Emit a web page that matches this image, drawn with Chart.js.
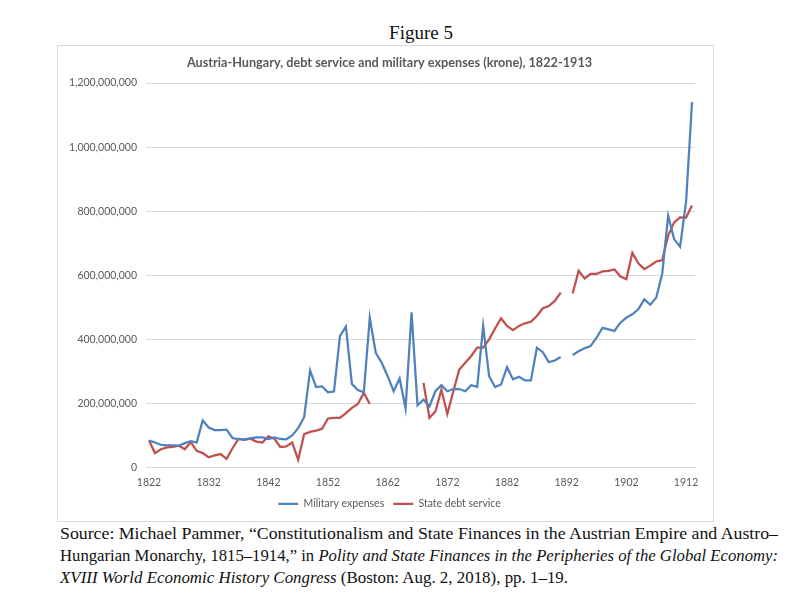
<!DOCTYPE html>
<html>
<head>
<meta charset="utf-8">
<script src="https://cdn.jsdelivr.net/npm/chart.js@4"></script>
<style>
  html, body { margin: 0; padding: 0; background: #fff; }
  body { width: 794px; height: 595px; position: relative; overflow: hidden; }
  #figTitle {
    position: absolute; left: 0; width: 842px; top: 22px; text-align: center;
    font-family: 'Liberation Serif', 'DejaVu Serif', serif; font-size: 19px; color: #111;
  }
  #chartBox {
    position: absolute; left: 57px; top: 45px; width: 657px; height: 477px;
    border: 1px solid #d9d9d9; box-sizing: border-box;
  }
  #source {
    position: absolute; left: 60px; top: 523px;
    font-family: 'Liberation Serif', 'DejaVu Serif', serif; font-size: 17px;
    line-height: 22px; color: #111; white-space: nowrap;
  }
  #source span { display: block; width: max-content; transform-origin: 0 50%; }
</style>
</head>
<body>
<div id="figTitle">Figure 5</div>
<div id="chartBox"><canvas id="chart"></canvas></div>
<div id="source">
  <span data-w="718">Source: Michael Pammer, “Constitutionalism and State Finances in the Austrian Empire and Austro–</span>
  <span data-w="718">Hungarian Monarchy, 1815–1914,” in <i>Polity and State Finances in the Peripheries of the Global Economy:</i></span>
  <span data-w="508"><i>XVIII World Economic History Congress</i> (Boston: Aug. 2, 2018), pp. 1–19.</span>
</div>
<script>
// ─── Data (values in millions of krone) ───
const years = [];
for (let y = 1822; y <= 1913; y++) years.push(String(y));

const militaryM = [
  84, 78, 71, 69, 69, 68, 76, 82, 78, 147,          // 1822-1831
  125, 117, 117, 118, 92, 88, 88, 91, 94, 94,        // 1832-1841
  89, 94, 89, 88, 100, 123, 157, 303, 251, 253,      // 1842-1851
  235, 237, 410, 440, 261, 242, 235, 468, 358, 327,  // 1852-1861
  285, 238, 278, 184, 484, 194, 212, 191, 238, 257,  // 1862-1871
  238, 245, 245, 238, 257, 252, 442, 285, 251, 259,  // 1872-1881
  313, 275, 283, 272, 272, 374, 360, 329, 334, 345,  // 1882-1891
  null, 351, 363, 372, 379, 405, 436, 431, 426, 452, // 1892-1901
  468, 478, 494, 525, 508, 530, 604, 786, 713, 689,  // 1902-1911
  828, 1141                                          // 1912-1913
];

const debtM = [
  84, 45, 57, 63, 64, 68, 57, 79, 52, 45,            // 1822-1831
  32, 38, 42, 27, 60, 90, 86, 90, 81, 78,            // 1832-1841
  97, 90, 64, 66, 78, 24, 104, 111, 115, 121,        // 1842-1851
  153, 155, 155, 170, 186, 198, 233, 198, null, null,// 1852-1861
  null, null, null, null, null, null, 264, 155, 175, 243, // 1862-1871
  167, 238, 306, 327, 348, 374, 374, 400, 434, 466,  // 1872-1881
  442, 429, 442, 450, 455, 473, 497, 504, 520, 546,  // 1882-1891
  null, 543, 614, 590, 604, 604, 612, 614, 618, 596, // 1892-1901
  588, 670, 637, 619, 630, 643, 647, 724, 765, 781,  // 1902-1911
  780, 818                                           // 1912-1913
];

const yTicks = [0, 200000000, 400000000, 600000000, 800000000, 1000000000, 1200000000];

const toKrone = arr => arr.map(v => v === null ? null : v * 1e6);

// ─── Source note: stretch each line to the width it has in the figure ───
document.querySelectorAll('#source span').forEach(sp => {
  const natural = sp.getBoundingClientRect().width;
  sp.style.transform = 'scaleX(' + (Number(sp.dataset.w) / natural) + ')';
});

// ─── Title and legend sit a little right of the canvas centre ───
const shiftBlocks = {
  id: 'shiftBlocks',
  afterLayout(chart) {
    [chart.titleBlock, chart.legend].forEach(b => {
      if (b) { b.left += 13; b.right += 13; }
    });
  }
};

// ─── Chart ───
const fontFam = "Lato, 'Liberation Sans', sans-serif";
const axisFont = { family: fontFam, size: 10.5 };
const grey = '#595959';

new Chart(document.getElementById('chart'), {
  type: 'line',
  data: {
    labels: years,
    datasets: [
      {
        label: 'Military expenses',
        data: toKrone(militaryM),
        borderColor: '#4f81bd',
        backgroundColor: '#4f81bd',
        borderWidth: 2.25,
        pointRadius: 0,
        tension: 0,
        spanGaps: false
      },
      {
        label: 'State debt service',
        data: toKrone(debtM),
        borderColor: '#c0504d',
        backgroundColor: '#c0504d',
        borderWidth: 2.25,
        pointRadius: 0,
        tension: 0,
        spanGaps: false
      }
    ]
  },
  plugins: [shiftBlocks],
  options: {
    responsive: true,
    maintainAspectRatio: false,
    animation: false,
    layout: { padding: { left: 0, right: 18, top: 0, bottom: 2 } },
    plugins: {
      title: {
        display: true,
        text: 'Austria-Hungary, debt service and military expenses (krone), 1822-1913',
        color: grey,
        font: { family: fontFam, size: 12.7, weight: 'bold' },
        padding: { top: 9, bottom: 12.8 }
      },
      legend: {
        position: 'bottom',
        labels: {
          color: grey,
          font: axisFont,
          usePointStyle: true,
          pointStyle: 'line',
          pointStyleWidth: 20,
          padding: 9
        }
      },
      tooltip: { enabled: false }
    },
    scales: {
      x: {
        offset: true,
        afterFit: s => { s.height = 22; },
        grid: { display: false, drawTicks: false },
        border: { color: '#d9d9d9' },
        ticks: {
          color: grey,
          font: axisFont,
          autoSkip: false,
          maxRotation: 0,
          padding: 9,
          callback: function (val, i) { return i % 10 === 0 ? years[i] : ''; }
        }
      },
      y: {
        min: 0,
        max: 1200000000,
        afterFit: s => { s.width = 88; },
        afterBuildTicks: s => { s.ticks = yTicks.map(v => ({ value: v })); },
        grid: { color: '#d9d9d9', drawTicks: false },
        border: { display: false },
        ticks: {
          color: grey,
          font: axisFont,
          padding: 9,
          callback: v => v.toLocaleString('en-US')
        }
      }
    }
  }
});
</script>
</body>
</html>
